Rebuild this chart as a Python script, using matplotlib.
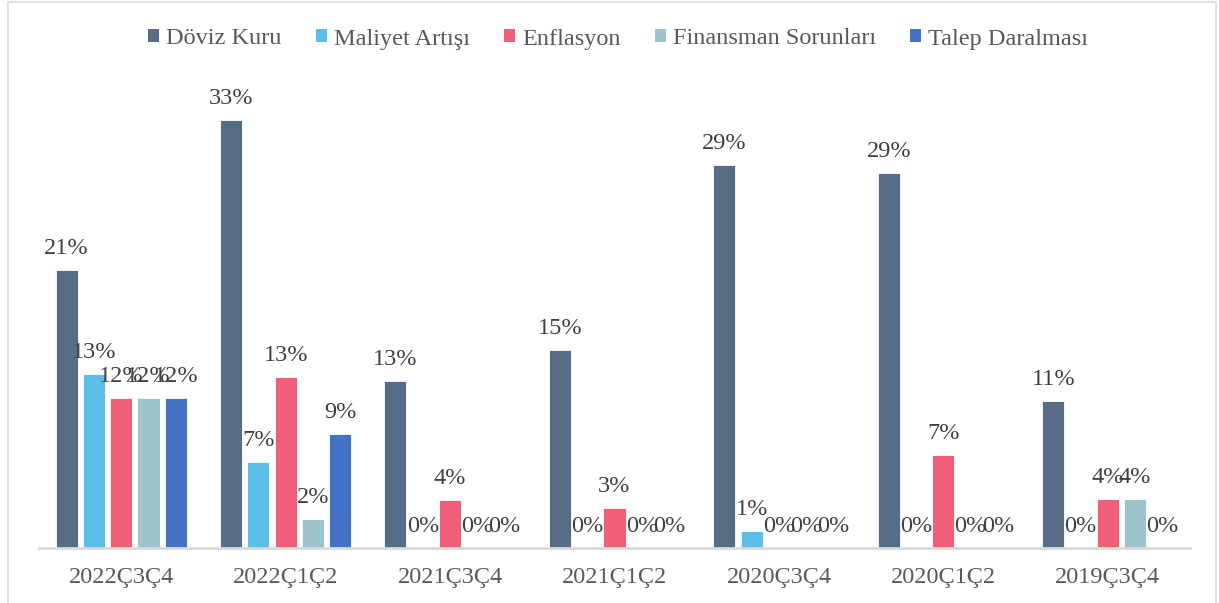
import numpy as np
import matplotlib
matplotlib.use("Agg")
import matplotlib.pyplot as plt
from matplotlib.patches import Patch, Rectangle

plt.rcParams['font.family'] = ['Liberation Serif', 'DejaVu Serif']

# data (percent)
categories = ['2022Ç3Ç4', '2022Ç1Ç2', '2021Ç3Ç4', '2021Ç1Ç2', '2020Ç3Ç4', '2020Ç1Ç2', '2019Ç3Ç4']
series = ['Döviz Kuru', 'Maliyet Artışı', 'Enflasyon', 'Finansman Sorunları', 'Talep Daralması']
doviz_kuru = [21.4, 33.0, 12.9, 15.3, 29.49, 28.9, 11.3]
maliyet_artisi = [13.4, 6.6, 0, 0, 1.3, 0, 0]
enflasyon = [11.6, 13.2, 3.7, 3.1, 0, 7.2, 3.8]
finansman = [11.6, 2.2, 0, 0, 0, 0, 3.8]
talep = [11.6, 8.8, 0, 0, 0, 0, 0]

colors = ['#566D85', '#5DBFE8', '#EF5F7A', '#9EC4CB', '#4472C4']
values = [doviz_kuru, maliyet_artisi, enflasyon, finansman, talep]

W, H = 1219, 603
fig = plt.figure(figsize=(W / 100, H / 100), dpi=100)

# outer chart frame
fig.patches.append(Rectangle((8 / W, -0.05), (1215.5 - 8) / W, 1.05 - 2.5 / H,
                             transform=fig.transFigure, fill=False,
                             edgecolor='#D9D9D9', linewidth=1.2))

ax = fig.add_axes([39 / W, 55 / H, (1190 - 39) / W, (548 - 68) / H])
ax.set_xlim(-0.5, len(categories) - 0.5)
ax.set_ylim(0, 37)

x = np.arange(len(categories))
slot = 0.166
bw = 0.134
for i, (name, vals, c) in enumerate(zip(series, values, colors)):
    xs = x + (i - 2) * slot
    bars = ax.bar(xs, vals, width=bw, color=c, edgecolor='white', linewidth=0.6, label=name)
    for xi, v in zip(xs, vals):
        ax.annotate(f'{round(v):d}%', (xi, v), xytext=(0, 11.5), textcoords='offset points',
                    ha='center', va='baseline', fontsize=17.5, color='#404040')

for s in ['top', 'right', 'left']:
    ax.spines[s].set_visible(False)
ax.spines['bottom'].set_color('#D9D9D9')
ax.spines['bottom'].set_linewidth(2)
ax.set_yticks([])
ax.set_xticks(x)
ax.set_xticklabels(categories)
ax.tick_params(axis='x', length=0, pad=14, labelsize=17.5, labelcolor='#595959')

handles = [Patch(facecolor=c, edgecolor='none') for c in colors]
fig.legend(handles, series, loc='center', bbox_to_anchor=(618 / W, 1 - 39 / H), ncol=5,
           frameon=False, fontsize=17.5, labelcolor='#595959',
           handlelength=0.45, handleheight=0.45, handletextpad=0.3, columnspacing=1.4)

fig.savefig('out.png', dpi=100)
